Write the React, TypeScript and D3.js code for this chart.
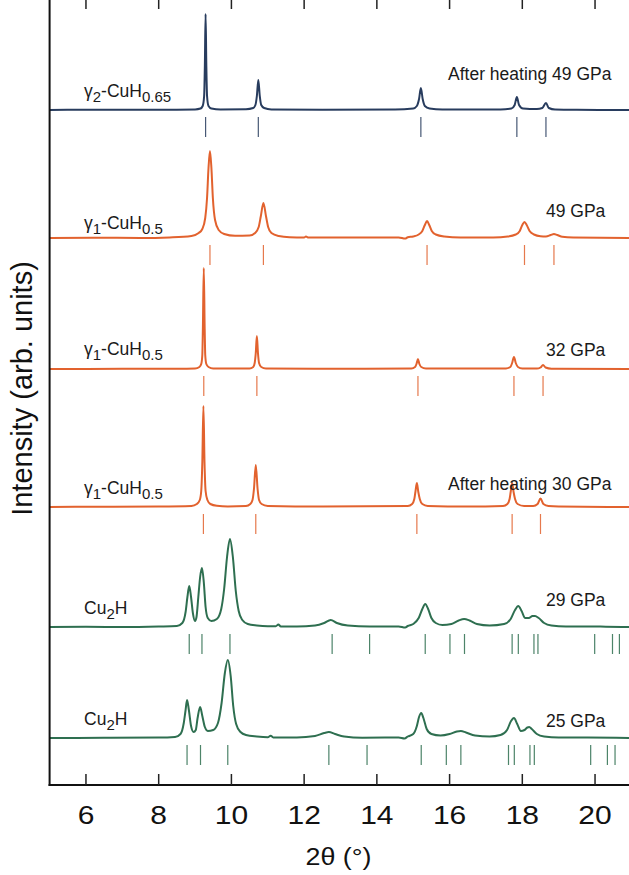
import * as d3 from "d3";

type Pt = [number, number];

// vertical offset of each pattern (arb. units), top to bottom
const offsets = [675, 547, 416, 278, 158, 47];

// intensity above baseline vs 2θ
const navy49: Pt[] = [
  [5, 0], [6.5, 0.3], [8, 0.2], [9.0, 0.6], [9.15, 1.5], [9.21, 4], [9.25, 14], [9.27, 45], [9.29, 96],
  [9.31, 45], [9.33, 14], [9.37, 4], [9.45, 1.5], [9.7, 0.6], [10.4, 0.8], [10.6, 2], [10.66, 5],
  [10.7, 14], [10.74, 30], [10.78, 14], [10.82, 5], [10.9, 2], [11.1, 0.6], [12.5, 0.3], [14.5, 0.4],
  [15.0, 1.5], [15.1, 4], [15.16, 11], [15.21, 22], [15.26, 11], [15.32, 4], [15.45, 1.5], [15.8, 0.4],
  [17.4, 0.5], [17.7, 1.5], [17.79, 5], [17.85, 13], [17.91, 5], [18.02, 1.5], [18.4, 1], [18.55, 2],
  [18.65, 7], [18.73, 2], [18.9, 0.5], [19.5, 0.2], [21, 0],
];

const orange49: Pt[] = [
  [5, 0], [6.2, 0.3], [7.5, 0], [8.3, 0.6], [8.9, 2], [9.1, 5], [9.2, 9], [9.28, 20], [9.33, 40],
  [9.37, 70], [9.41, 87], [9.45, 70], [9.49, 40], [9.55, 18], [9.65, 8], [9.8, 4], [10.1, 2.2],
  [10.5, 2.4], [10.65, 5], [10.75, 11], [10.81, 22], [10.88, 35], [10.95, 22], [11.01, 11], [11.1, 5],
  [11.3, 2], [11.6, 0.8], [12.0, 0.6], [12.05, 1.4], [12.12, 0.5], [13.5, 0.4], [14.6, 0.6], [14.78, -0.6],
  [14.85, 0.8], [15.0, 1.5], [15.15, 3.5], [15.25, 7], [15.32, 13], [15.38, 17], [15.44, 13], [15.51, 7],
  [15.62, 3.5], [15.85, 1.5], [16.3, 0.5], [17.2, 0.6], [17.6, 1.5], [17.82, 3.5], [17.93, 7], [18.0, 13],
  [18.06, 16], [18.12, 13], [18.2, 7], [18.32, 3.5], [18.5, 1.8], [18.65, 1.6], [18.78, 3], [18.87, 4],
  [18.96, 3], [19.1, 1.2], [19.4, 0.5], [21, 0],
];

const orange32: Pt[] = [
  [5, 0], [7, 0.2], [8.5, 0.3], [9.0, 0.5], [9.12, 2], [9.17, 5], [9.2, 14], [9.215, 40], [9.24, 101],
  [9.265, 40], [9.28, 14], [9.31, 5], [9.37, 2], [9.5, 0.5], [10.5, 0.5], [10.6, 2], [10.64, 6],
  [10.67, 16], [10.7, 33], [10.73, 16], [10.76, 6], [10.82, 2], [10.95, 0.5], [13, 0.2], [14.95, 0.5],
  [15.05, 2], [15.09, 5], [15.13, 10], [15.17, 5], [15.22, 2], [15.35, 0.5], [17.55, 0.5], [17.67, 2],
  [17.72, 6], [17.77, 12], [17.82, 6], [17.88, 2], [18.0, 0.6], [18.4, 0.4], [18.5, 1.5], [18.57, 4],
  [18.64, 1.5], [18.8, 0.3], [21, 0],
];

const orange30: Pt[] = [
  [5, 0], [6.5, 0.3], [8, 0.5], [8.9, 1], [9.05, 3], [9.13, 7], [9.17, 16], [9.2, 45], [9.23, 101],
  [9.26, 45], [9.29, 16], [9.34, 7], [9.42, 3], [9.6, 1.2], [9.9, 0.6], [10.4, 1], [10.52, 3],
  [10.58, 7], [10.62, 18], [10.67, 42], [10.72, 18], [10.76, 7], [10.83, 3], [11.0, 1], [12.5, 0.4],
  [14.85, 1], [14.97, 3], [15.03, 8], [15.06, 15], [15.1, 24], [15.14, 15], [15.18, 8], [15.25, 3],
  [15.4, 1], [16.5, 0.5], [17.47, 1], [17.59, 3], [17.65, 8], [17.68, 15], [17.72, 24], [17.76, 15],
  [17.8, 8], [17.87, 3], [18.05, 1], [18.3, 1], [18.42, 3], [18.5, 8.5], [18.58, 3], [18.72, 1],
  [19.0, 0.5], [21, 0],
];

const green29: Pt[] = [
  [5, 0], [6, 0.3], [7, 0], [8, 0.5], [8.5, 1], [8.65, 4], [8.74, 15], [8.79, 30], [8.84, 41],
  [8.89, 30], [8.94, 14], [9.0, 6], [9.04, 10], [9.09, 30], [9.14, 50], [9.19, 59], [9.24, 45],
  [9.29, 20], [9.35, 9], [9.45, 6], [9.6, 8], [9.72, 18], [9.8, 38], [9.88, 70], [9.96, 88],
  [10.04, 70], [10.12, 36], [10.2, 16], [10.3, 7], [10.45, 3], [10.7, 1.5], [11.0, 0.8], [11.22, 0.8],
  [11.29, 2.5], [11.36, 0.5], [11.8, 0.5], [12.3, 1.5], [12.55, 4], [12.73, 7], [12.9, 4], [13.2, 1.5],
  [13.8, 0.5], [14.6, 0.6], [14.78, -0.5], [14.85, 1], [15.0, 3], [15.15, 9], [15.25, 18], [15.33, 23],
  [15.41, 18], [15.5, 9], [15.62, 4], [15.8, 2], [16.05, 3], [16.25, 6.5], [16.4, 8], [16.55, 6.5],
  [16.75, 3], [17.1, 1.5], [17.5, 3], [17.68, 8], [17.8, 17], [17.89, 21], [17.98, 16], [18.08, 9],
  [18.18, 9], [18.28, 11], [18.35, 11], [18.45, 9], [18.6, 4], [18.8, 1.5], [19.2, 0.5], [19.9, 0.6],
  [20.3, 0.3], [21, 0],
];

const green25: Pt[] = [
  [5, 0], [6.5, 0.2], [8, 0.4], [8.45, 1], [8.6, 4], [8.69, 15], [8.74, 28], [8.78, 38], [8.83, 28],
  [8.89, 12], [8.96, 6], [9.02, 8], [9.07, 20], [9.14, 31], [9.2, 22], [9.27, 11], [9.35, 7], [9.5, 8],
  [9.63, 15], [9.73, 35], [9.82, 65], [9.9, 78], [9.98, 62], [10.05, 32], [10.13, 14], [10.25, 6],
  [10.4, 3], [10.7, 1.5], [11.0, 0.8], [11.08, 2.3], [11.15, 0.6], [11.8, 0.6], [12.3, 2], [12.55, 5],
  [12.68, 6], [12.85, 4], [13.1, 1.5], [13.6, 0.3], [14.6, 0.5], [14.76, -0.5], [14.85, 1.5], [15.0, 4],
  [15.1, 12], [15.16, 21], [15.22, 25], [15.28, 20], [15.37, 9], [15.5, 4], [15.75, 2.5], [16.0, 4],
  [16.2, 6.5], [16.31, 7], [16.45, 5.5], [16.7, 2.5], [17.1, 1.5], [17.4, 3], [17.58, 8], [17.69, 17],
  [17.77, 20], [17.86, 14], [17.96, 7], [18.06, 8], [18.14, 10.5], [18.19, 11], [18.26, 9], [18.4, 4],
  [18.6, 1.5], [19.0, 0.5], [19.8, 0.5], [21, 0],
];

// reflection markers (2θ)
const navy49Refl = [9.29, 10.74, 15.21, 17.85, 18.65];
const orange49Refl = [9.41, 10.88, 15.38, 18.06, 18.87];
const orange32Refl = [9.24, 10.7, 15.13, 17.77, 18.57];
const orange30Refl = [9.23, 10.67, 15.1, 17.72, 18.5];
const green29Refl = [8.84, 9.19, 9.96, 12.77, 13.8, 15.33, 16.01, 16.41, 17.72, 17.89, 18.32, 18.43, 19.99, 20.48, 20.67];
const green25Refl = [8.78, 9.15, 9.9, 12.68, 13.73, 15.22, 15.91, 16.31, 17.62, 17.78, 18.21, 18.33, 19.88, 20.34, 20.55];

// phase names as [text, isSubscript] parts
const phaseNames: [string, boolean][][] = [
  [["γ", false], ["2", true], ["-CuH", false], ["0.65", true]],
  [["γ", false], ["1", true], ["-CuH", false], ["0.5", true]],
  [["γ", false], ["1", true], ["-CuH", false], ["0.5", true]],
  [["γ", false], ["1", true], ["-CuH", false], ["0.5", true]],
  [["Cu", false], ["2", true], ["H", false]],
  [["Cu", false], ["2", true], ["H", false]],
];
const pressureNames = ["After heating 49 GPa", "49 GPa", "32 GPa", "After heating 30 GPa", "29 GPa", "25 GPa"];

const xTicks = [6, 8, 10, 12, 14, 16, 18, 20];

const patterns = [navy49, orange49, orange32, orange30, green29, green25];
const reflections = [navy49Refl, orange49Refl, orange32Refl, orange30Refl, green29Refl, green25Refl];

// styling / layout
const W = 629, H = 875;
const colors = ["#283c5e", "#e2622e", "#e2622e", "#e2622e", "#2e6f50", "#2e6f50"];
const labelPos = [
  { px: 84, pdy: -13, rx: 448, rdy: -30 },
  { px: 84, pdy: -9, rx: 546, rdy: -21 },
  { px: 84, pdy: -14, rx: 546, rdy: -13 },
  { px: 84, pdy: -13, rx: 448, rdy: -17 },
  { px: 84, pdy: -13, rx: 546, rdy: -21 },
  { px: 84, pdy: -13, rx: 546, rdy: -11 },
];
const FONT = "'Liberation Sans', Arial, Helvetica, sans-serif";

export default function App() {
  const x = d3.scaleLinear().domain([5, 21]).range([49.6, 631.4]);
  const y = d3.scaleLinear().domain([0, 787]).range([785, -2]);

  return (
    <>
      <style>{`body{margin:0}`}</style>
      <svg width={W} height={H} style={{ display: "block", fontFamily: FONT }}>
        {patterns.map((pts, i) => {
          const off = offsets[i];
          const line = d3
            .line<Pt>()
            .x((d) => x(d[0]))
            .y((d) => y(d[1] + off))
            .curve(d3.curveMonotoneX);
          const lp = labelPos[i];
          const base = y(off);
          return (
            <g key={i}>
              <path d={line(pts) || ""} fill="none" stroke={colors[i]} strokeWidth={2} strokeLinejoin="round" />
              {reflections[i].map((r, j) => (
                <line
                  key={j}
                  x1={x(r)}
                  x2={x(r)}
                  y1={y(off - 7)}
                  y2={y(off - 27)}
                  stroke={colors[i]}
                  strokeWidth={1.2}
                  opacity={0.85}
                />
              ))}
              <text x={lp.px} y={base + lp.pdy} fontSize={17.5} fill="#1a1a1a">
                {phaseNames[i].map(([t, sub], k) => {
                  const prev = k > 0 ? phaseNames[i][k - 1][1] : false;
                  const dy = sub && !prev ? 5 : !sub && prev ? -5 : 0;
                  return (
                    <tspan key={k} dy={dy} fontSize={sub ? 15 : 17.5}>
                      {t}
                    </tspan>
                  );
                })}
              </text>
              <text x={lp.rx} y={base + lp.rdy} fontSize={17.5} fill="#1a1a1a">
                {pressureNames[i]}
              </text>
            </g>
          );
        })}

        {/* axes */}
        <line x1={49.6} x2={49.6} y1={-2} y2={786} stroke="#111" strokeWidth={2} />
        <line x1={48.6} x2={W} y1={785} y2={785} stroke="#111" strokeWidth={2} />
        {xTicks.map((t) => (
          <g key={t}>
            <line x1={x(t)} x2={x(t)} y1={785} y2={774} stroke="#222" strokeWidth={1.5} />
            <line x1={x(t)} x2={x(t)} y1={-2} y2={9} stroke="#222" strokeWidth={1.5} />
            <text
              transform={`translate(${x(t)},824) scale(1.2,1)`}
              textAnchor="middle"
              fontSize={25}
              fill="#111"
            >
              {t}
            </text>
          </g>
        ))}
        <text transform="translate(338.5,865) scale(1.12,1)" textAnchor="middle" fontSize={24} fill="#111">
          2θ (°)
        </text>
        <text transform="translate(32,388.5) rotate(-90)" textAnchor="middle" fontSize={29} fill="#111">
          Intensity (arb. units)
        </text>
      </svg>
    </>
  );
}
